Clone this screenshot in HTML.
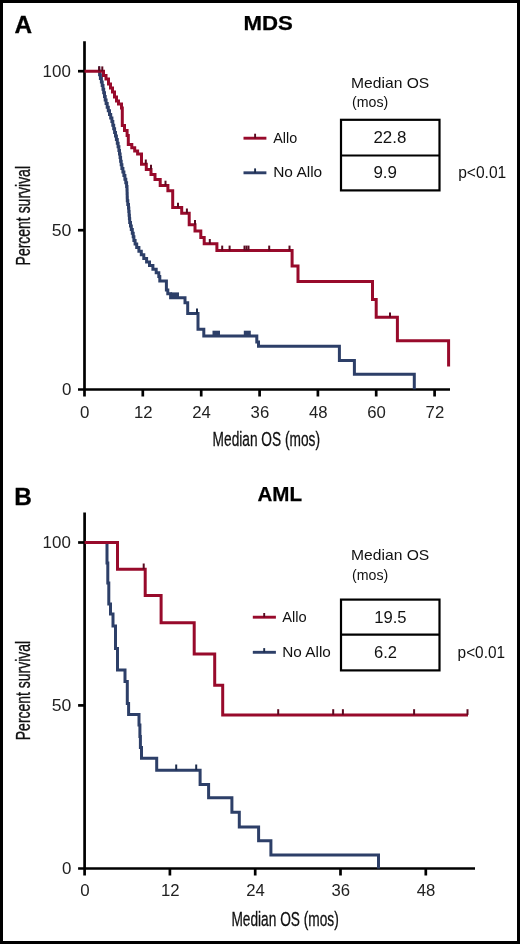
<!DOCTYPE html>
<html><head><meta charset="utf-8"><title>Survival curves</title>
<style>
html,body{margin:0;padding:0;background:#fff;}
body{width:520px;height:944px;overflow:hidden;font-family:"Liberation Sans", sans-serif;}
svg{display:block;filter:blur(0.3px);}
</style></head><body>
<svg width="520" height="944" viewBox="0 0 520 944">
<rect x="0" y="0" width="520" height="944" fill="#fff"/>
<rect x="1.5" y="1.5" width="517" height="941" fill="none" stroke="#000" stroke-width="3"/>
<line x1="84.5" y1="41.3" x2="84.5" y2="396.5" stroke="#000" stroke-width="2.7"/><line x1="78.0" y1="389.5" x2="450" y2="389.5" stroke="#000" stroke-width="2.7"/><line x1="78.0" y1="230.2" x2="84.5" y2="230.2" stroke="#000" stroke-width="2.7"/><line x1="78.0" y1="71.2" x2="84.5" y2="71.2" stroke="#000" stroke-width="2.7"/><line x1="142.8" y1="389.5" x2="142.8" y2="396.5" stroke="#000" stroke-width="2.7"/><line x1="201.2" y1="389.5" x2="201.2" y2="396.5" stroke="#000" stroke-width="2.7"/><line x1="259.6" y1="389.5" x2="259.6" y2="396.5" stroke="#000" stroke-width="2.7"/><line x1="317.9" y1="389.5" x2="317.9" y2="396.5" stroke="#000" stroke-width="2.7"/><line x1="376.2" y1="389.5" x2="376.2" y2="396.5" stroke="#000" stroke-width="2.7"/><line x1="434.6" y1="389.5" x2="434.6" y2="396.5" stroke="#000" stroke-width="2.7"/>
<g font-family="Liberation Sans, sans-serif" font-size="17" fill="#222" text-anchor="end">
<text x="70.8" y="76.6" textLength="28.2" lengthAdjust="spacingAndGlyphs">100</text><text x="71.3" y="235.6" textLength="19.6" lengthAdjust="spacingAndGlyphs">50</text><text x="71.3" y="394.6" textLength="9.4" lengthAdjust="spacingAndGlyphs">0</text>
</g>
<g font-family="Liberation Sans, sans-serif" font-size="17" fill="#222" text-anchor="middle">
<text x="84.8" y="417.8" textLength="9.4" lengthAdjust="spacingAndGlyphs">0</text>
<text x="143.2" y="417.8" textLength="18.6" lengthAdjust="spacingAndGlyphs">12</text>
<text x="201.5" y="417.8" textLength="18.6" lengthAdjust="spacingAndGlyphs">24</text>
<text x="259.9" y="417.8" textLength="18.6" lengthAdjust="spacingAndGlyphs">36</text>
<text x="318.2" y="417.8" textLength="18.6" lengthAdjust="spacingAndGlyphs">48</text>
<text x="376.6" y="417.8" textLength="18.6" lengthAdjust="spacingAndGlyphs">60</text>
<text x="434.9" y="417.8" textLength="18.6" lengthAdjust="spacingAndGlyphs">72</text>
</g>
<text x="14.6" y="33.4" font-family="Liberation Sans, sans-serif" font-weight="bold" font-size="24.5" textLength="17.6" lengthAdjust="spacingAndGlyphs" stroke="#000" stroke-width="0.3">A</text>
<text x="243.4" y="29.6" font-family="Liberation Sans, sans-serif" font-weight="bold" font-size="20.3" textLength="49.4" lengthAdjust="spacingAndGlyphs" stroke="#000" stroke-width="0.25">MDS</text>
<text transform="translate(30.0,265.4) rotate(-90)" font-family="Liberation Sans, sans-serif" font-size="19.5" textLength="99.4" lengthAdjust="spacingAndGlyphs" fill="#111" stroke="#111" stroke-width="0.35">Percent survival</text>
<text x="212.6" y="445.7" font-family="Liberation Sans, sans-serif" font-size="20.5" textLength="107.4" lengthAdjust="spacingAndGlyphs" fill="#111" stroke="#111" stroke-width="0.3">Median OS (mos)</text>
<g font-family="Liberation Sans, sans-serif" font-size="14.2" fill="#111">
<text x="351.1" y="87.7" textLength="78.2" lengthAdjust="spacingAndGlyphs">Median OS</text>
<text x="352.1" y="107.4" font-size="14.9" textLength="36.2" lengthAdjust="spacingAndGlyphs">(mos)</text>
<text x="273.2" y="143.1" textLength="24" lengthAdjust="spacingAndGlyphs">Allo</text>
<text x="273.2" y="177.4" textLength="49" lengthAdjust="spacingAndGlyphs">No Allo</text>
<text x="373.4" y="143.4" font-size="16.8" textLength="33" lengthAdjust="spacingAndGlyphs">22.8</text>
<text x="373.4" y="178" font-size="16.8" textLength="23.6" lengthAdjust="spacingAndGlyphs">9.9</text>
<text x="458.2" y="177.7" font-size="16" textLength="48" lengthAdjust="spacingAndGlyphs">p&lt;0.01</text>
</g>
<rect x="341" y="119.8" width="98.5" height="70.6" fill="none" stroke="#000" stroke-width="2.2"/>
<line x1="341" y1="155.5" x2="439.5" y2="155.5" stroke="#000" stroke-width="2.2"/>
<line x1="243.5" y1="138.2" x2="266.4" y2="138.2" stroke="#980A2B" stroke-width="2.9"/>
<line x1="255.1" y1="133.7" x2="255.1" y2="138.2" stroke="#5a0a20" stroke-width="1.9"/>
<line x1="243.5" y1="172.8" x2="266.4" y2="172.8" stroke="#2D3F68" stroke-width="2.9"/>
<line x1="255.1" y1="168.4" x2="255.1" y2="172.8" stroke="#1c2c4c" stroke-width="1.9"/>
<path d="M99.4,71.2 H99.6 V74.8 H100.4 V78.4 H101.4 V82.0 H102.2 V85.6 H103.0 V89.2 H103.7 V92.8 H104.5 V96.4 H105.2 V100.0 H106.1 V103.6 H107.2 V107.2 H108.3 V110.8 H109.5 V114.4 H110.7 V118.0 H111.9 V121.6 H112.8 V125.2 H113.7 V128.8 H114.6 V132.4 H115.5 V136.0 H116.4 V139.6 H117.3 V143.2 H118.1 V146.8 H118.9 V150.4 H119.5 V154.0 H120.1 V157.6 H120.6 V161.2 H121.2 V164.8 H121.9 V168.4 H122.9 V172.0 H123.9 V175.6 H124.9 V179.2 H125.8 V182.8 H126.6 V186.4 H127.0 V190.0 H127.1 V193.6 H127.2 V197.2 H127.3 V200.8 H127.8 V204.4 H128.5 V208.0 H128.8 V211.6 H129.1 V215.2 H129.4 V218.8 H129.7 V222.4 H130.5 V226.0 H131.3 V229.6 H132.3 V233.2 H133.2 V236.8 H133.9 V240.4 H135.1 V244.0 H136.7 V247.6 H138.9 V251.2 H141.3 V254.8 H143.8 V258.4 H146.6 V262.0 H149.5 V265.6 H152.9 V269.2 H156.2 V272.8 H158.8 V276.4 H159.7 V277.0 H159.8 V281 H166.4 V290 H167.8 V293.8 H170.6 V297.7 H185 V302.7 H187.7 V313.5 H198 V329.2 H203.8 V336 H256.8 V342 H258.5 V346.3 H339.4 V360.4 H354.4 V374.2 H414.3 V389.2" fill="none" stroke="#2D3F68" stroke-width="3.0" stroke-linejoin="miter" stroke-linecap="butt"/>
<line x1="99.2" y1="66.3" x2="99.2" y2="71.2" stroke="#1c2c4c" stroke-width="2"/><line x1="197" y1="308.6" x2="197" y2="313.5" stroke="#1c2c4c" stroke-width="2"/>
<rect x="170.5" y="292.4" width="8.5" height="5.3" fill="#2D3F68"/>
<rect x="212.5" y="330.7" width="7.5" height="5.3" fill="#2D3F68"/>
<rect x="243.8" y="330.7" width="7.0" height="5.3" fill="#2D3F68"/>
<path d="M84.5,71.2 H103.5 V75.5 H106 V79 H108.5 V84 H110.5 V88 H112.5 V92 H114.5 V97 H116.5 V101 H118.5 V104 H121.5 V108 H122.3 V125.4 H124.5 V130.5 H127.1 V135.6 H128.3 V144.5 H131.8 V147.7 H134.7 V150.9 H137.6 V154 H141.5 V164.3 H146.3 V169.6 H151 V174.6 H155 V179.5 H160.2 V185.5 H167.9 V190.8 H172.7 V207.5 H181.7 V213.3 H189.2 V224.8 H195 V231.1 H200.8 V237.5 H204.2 V243.8 H216.9 V250.4 H292.1 V266.1 H298 V281.4 H372.5 V299.5 H376.2 V317.2 H397.4 V340.8 H448.6 V366.5" fill="none" stroke="#980A2B" stroke-width="3.0" stroke-linejoin="miter" stroke-linecap="butt"/>
<line x1="99.2" y1="66.4" x2="99.2" y2="71.2" stroke="#5a0a20" stroke-width="2"/><line x1="102.3" y1="66.4" x2="102.3" y2="71.2" stroke="#5a0a20" stroke-width="2"/><line x1="145.8" y1="159.5" x2="145.8" y2="164.3" stroke="#5a0a20" stroke-width="2"/><line x1="151" y1="164.8" x2="151" y2="169.6" stroke="#5a0a20" stroke-width="2"/><line x1="165.5" y1="180.7" x2="165.5" y2="185.5" stroke="#5a0a20" stroke-width="2"/><line x1="178" y1="202.7" x2="178" y2="207.5" stroke="#5a0a20" stroke-width="2"/><line x1="186.9" y1="208.5" x2="186.9" y2="213.3" stroke="#5a0a20" stroke-width="2"/><line x1="195" y1="220.0" x2="195" y2="224.8" stroke="#5a0a20" stroke-width="2"/><line x1="209.8" y1="239.0" x2="209.8" y2="243.8" stroke="#5a0a20" stroke-width="2"/><line x1="222.2" y1="245.6" x2="222.2" y2="250.4" stroke="#5a0a20" stroke-width="2"/><line x1="229.6" y1="245.6" x2="229.6" y2="250.4" stroke="#5a0a20" stroke-width="2"/><line x1="244.5" y1="245.6" x2="244.5" y2="250.4" stroke="#5a0a20" stroke-width="2"/><line x1="246.5" y1="245.6" x2="246.5" y2="250.4" stroke="#5a0a20" stroke-width="2"/><line x1="248.5" y1="245.6" x2="248.5" y2="250.4" stroke="#5a0a20" stroke-width="2"/><line x1="269.2" y1="245.6" x2="269.2" y2="250.4" stroke="#5a0a20" stroke-width="2"/><line x1="289.5" y1="245.6" x2="289.5" y2="250.4" stroke="#5a0a20" stroke-width="2"/><line x1="390" y1="312.4" x2="390" y2="317.2" stroke="#5a0a20" stroke-width="2"/>
<line x1="84.6" y1="512.5" x2="84.6" y2="875.5" stroke="#000" stroke-width="2.7"/><line x1="78.1" y1="868.5" x2="475" y2="868.5" stroke="#000" stroke-width="2.7"/><line x1="78.1" y1="705.4" x2="84.6" y2="705.4" stroke="#000" stroke-width="2.7"/><line x1="78.1" y1="542.5" x2="84.6" y2="542.5" stroke="#000" stroke-width="2.7"/><line x1="169.9" y1="868.5" x2="169.9" y2="875.5" stroke="#000" stroke-width="2.7"/><line x1="255.2" y1="868.5" x2="255.2" y2="875.5" stroke="#000" stroke-width="2.7"/><line x1="340.5" y1="868.5" x2="340.5" y2="875.5" stroke="#000" stroke-width="2.7"/><line x1="425.8" y1="868.5" x2="425.8" y2="875.5" stroke="#000" stroke-width="2.7"/>
<g font-family="Liberation Sans, sans-serif" font-size="17" fill="#222" text-anchor="end">
<text x="70.8" y="547.9" textLength="28.2" lengthAdjust="spacingAndGlyphs">100</text><text x="71.3" y="710.8" textLength="19.6" lengthAdjust="spacingAndGlyphs">50</text><text x="71.3" y="873.6" textLength="9.4" lengthAdjust="spacingAndGlyphs">0</text>
</g>
<g font-family="Liberation Sans, sans-serif" font-size="17" fill="#222" text-anchor="middle">
<text x="84.9" y="895.7" textLength="9.4" lengthAdjust="spacingAndGlyphs">0</text>
<text x="170.2" y="895.7" textLength="18.6" lengthAdjust="spacingAndGlyphs">12</text>
<text x="255.5" y="895.7" textLength="18.6" lengthAdjust="spacingAndGlyphs">24</text>
<text x="340.8" y="895.7" textLength="18.6" lengthAdjust="spacingAndGlyphs">36</text>
<text x="426.1" y="895.7" textLength="18.6" lengthAdjust="spacingAndGlyphs">48</text>
</g>
<text x="14.2" y="504.5" font-family="Liberation Sans, sans-serif" font-weight="bold" font-size="24.5" textLength="17.6" lengthAdjust="spacingAndGlyphs" stroke="#000" stroke-width="0.3">B</text>
<text x="257.5" y="501.2" font-family="Liberation Sans, sans-serif" font-weight="bold" font-size="20.3" textLength="44.6" lengthAdjust="spacingAndGlyphs" stroke="#000" stroke-width="0.25">AML</text>
<text transform="translate(30.0,740.2) rotate(-90)" font-family="Liberation Sans, sans-serif" font-size="19.5" textLength="99.4" lengthAdjust="spacingAndGlyphs" fill="#111" stroke="#111" stroke-width="0.35">Percent survival</text>
<text x="231.4" y="925.6" font-family="Liberation Sans, sans-serif" font-size="20.5" textLength="107.4" lengthAdjust="spacingAndGlyphs" fill="#111" stroke="#111" stroke-width="0.3">Median OS (mos)</text>
<g font-family="Liberation Sans, sans-serif" font-size="14.2" fill="#111">
<text x="351.1" y="560.3" textLength="78.2" lengthAdjust="spacingAndGlyphs">Median OS</text>
<text x="352.1" y="579.9" font-size="14.9" textLength="36.2" lengthAdjust="spacingAndGlyphs">(mos)</text>
<text x="282.3" y="622.2" textLength="24.5" lengthAdjust="spacingAndGlyphs">Allo</text>
<text x="282.3" y="657.4" textLength="48.5" lengthAdjust="spacingAndGlyphs">No Allo</text>
<text x="374.2" y="622.9" font-size="16.8" textLength="32.4" lengthAdjust="spacingAndGlyphs">19.5</text>
<text x="374" y="658" font-size="16.8" textLength="23" lengthAdjust="spacingAndGlyphs">6.2</text>
<text x="457.6" y="657.6" font-size="16" textLength="47.4" lengthAdjust="spacingAndGlyphs">p&lt;0.01</text>
</g>
<rect x="341" y="599.6" width="98.5" height="70.8" fill="none" stroke="#000" stroke-width="2.2"/>
<line x1="341" y1="634.6" x2="439.5" y2="634.6" stroke="#000" stroke-width="2.2"/>
<line x1="252.8" y1="617.2" x2="275.9" y2="617.2" stroke="#980A2B" stroke-width="2.9"/>
<line x1="264.2" y1="613" x2="264.2" y2="617.2" stroke="#5a0a20" stroke-width="1.9"/>
<line x1="252.8" y1="652.3" x2="275.9" y2="652.3" stroke="#2D3F68" stroke-width="2.9"/>
<line x1="264.2" y1="648.1" x2="264.2" y2="652.3" stroke="#1c2c4c" stroke-width="1.9"/>
<path d="M107,542.5 V563 H107.8 V583 H108.8 V604 H110.5 V614 H113 V626 H115.5 V648.5 H117.5 V670 H125 V681.5 H127.3 V703.6 H128.6 V714.4 H139 V725 H139.9 V736.5 H140.4 V747.6 H141.5 V758.2 H156.7 V770.2 H200.1 V784.5 H208.6 V797.7 H231.9 V812.2 H239.3 V826.9 H258.6 V840.8 H270.9 V855.1 H378.5 V868.5" fill="none" stroke="#2D3F68" stroke-width="3.0"/>
<line x1="176.2" y1="764.5" x2="176.2" y2="770.2" stroke="#1c2c4c" stroke-width="2"/><line x1="196.2" y1="764.5" x2="196.2" y2="770.2" stroke="#1c2c4c" stroke-width="2"/>
<path d="M84.6,542.5 H117.5 V569.2 H145.2 V595.5 H161.1 V622.7 H194.2 V654 H214.7 V685.2 H222.7 V714.9 H468" fill="none" stroke="#980A2B" stroke-width="3.0"/>
<line x1="143.7" y1="563.5" x2="143.7" y2="569.2" stroke="#5a0a20" stroke-width="2"/><line x1="278.2" y1="709.2" x2="278.2" y2="714.9" stroke="#5a0a20" stroke-width="2"/><line x1="333.2" y1="709.2" x2="333.2" y2="714.9" stroke="#5a0a20" stroke-width="2"/><line x1="342.9" y1="709.2" x2="342.9" y2="714.9" stroke="#5a0a20" stroke-width="2"/><line x1="414.1" y1="709.2" x2="414.1" y2="714.9" stroke="#5a0a20" stroke-width="2"/><line x1="467.5" y1="709.2" x2="467.5" y2="714.9" stroke="#5a0a20" stroke-width="2"/>
</svg>
</body></html>
